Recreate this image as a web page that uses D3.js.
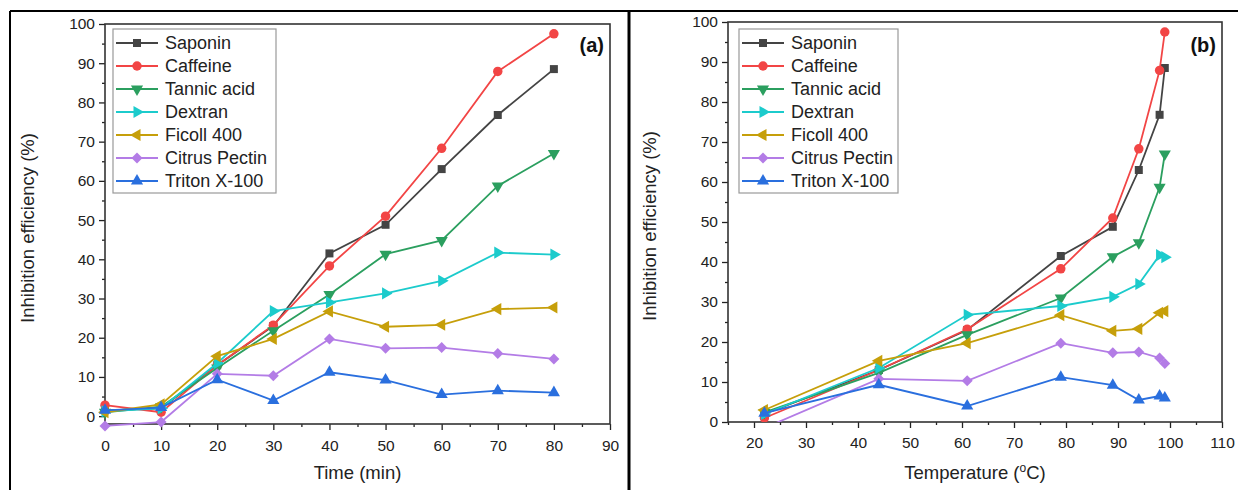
<!DOCTYPE html>
<html>
<head>
<meta charset="utf-8">
<script src="https://cdn.jsdelivr.net/npm/d3@7/dist/d3.min.js"></script>
<style>
  body { margin: 0; background: #fff; }
  svg text { font-family: "Liberation Sans", Arial, sans-serif; }
</style>
</head>
<body>
<div id="chart"></div>
<script>
// series names, in legend order
var names = ["Saponin", "Caffeine", "Tannic acid", "Dextran", "Ficoll 400", "Citrus Pectin", "Triton X-100"];
var colors = ["#444444", "#f24545", "#2b9f5f", "#1ccbcc", "#c69f0a", "#b37ce6", "#2a6fde"];
var shapes = ["square", "circle", "down", "right", "left", "diamond", "up"];

// panel (a): time in minutes
var timeX = [0, 10, 20, 30, 40, 50, 60, 70, 80];
var timeSaponin  = [1.5, 2.0, 13.0, 23.0, 41.5, 48.8, 63.0, 76.8, 88.5];
var timeCaffeine = [2.8, 1.0, 13.0, 23.2, 38.3, 51.0, 68.3, 87.9, 97.5];
var timeTannic   = [1.0, 2.4, 12.3, 21.8, 31.0, 41.3, 44.8, 58.7, 67.0];
var timeDextran  = [1.2, 2.0, 13.5, 26.8, 29.0, 31.3, 34.5, 41.7, 41.2];
var timeFicoll   = [1.0, 3.0, 15.3, 19.7, 26.7, 22.8, 23.3, 27.3, 27.7];
var timePectin   = [-2.5, -1.5, 10.8, 10.3, 19.7, 17.3, 17.5, 16.0, 14.6];
var timeTriton   = [1.5, 2.2, 9.3, 4.0, 11.2, 9.2, 5.5, 6.5, 6.0];

// panel (b): temperature in oC
var tempX = [22, 44, 61, 79, 89, 94, 98, 99];
var tempSaponin  = [2.0, 13.0, 23.0, 41.5, 48.8, 63.0, 76.8, 88.5];
var tempCaffeine = [1.0, 13.0, 23.2, 38.3, 51.0, 68.3, 87.9, 97.5];
var tempTannic   = [2.4, 12.3, 21.8, 31.0, 41.3, 44.8, 58.7, 67.0];
var tempDextran  = [2.0, 13.5, 26.8, 29.0, 31.3, 34.5, 41.7, 41.2];
var tempFicoll   = [3.0, 15.3, 19.7, 26.7, 22.8, 23.3, 27.3, 27.7];
var tempPectin   = [-1.5, 10.8, 10.3, 19.7, 17.3, 17.5, 16.0, 14.6];
var tempTriton   = [2.2, 9.3, 4.0, 11.2, 9.2, 5.5, 6.5, 6.0];

var timeTicks = [0, 10, 20, 30, 40, 50, 60, 70, 80, 90];
var tempTicks = [20, 30, 40, 50, 60, 70, 80, 90, 100, 110];
var yTicks = [0, 10, 20, 30, 40, 50, 60, 70, 80, 90, 100];

var W = 1238, H = 490;
var svg = d3.select("#chart").append("svg")
    .attr("width", W)
    .attr("height", H);

// outer figure frame
svg.append("line").attr("x1", 10).attr("x2", W).attr("y1", 11).attr("y2", 11)
    .attr("stroke", "#000").attr("stroke-width", 2);
svg.append("line").attr("x1", 10).attr("x2", 10).attr("y1", 11).attr("y2", H)
    .attr("stroke", "#000").attr("stroke-width", 2);
svg.append("line").attr("x1", 629).attr("x2", 629).attr("y1", 11).attr("y2", H)
    .attr("stroke", "#000").attr("stroke-width", 3);

function symbolPath(shape) {
    var s;
    if (shape === "square") s = d3.symbol(d3.symbolSquare, 64);
    else if (shape === "circle") s = d3.symbol(d3.symbolCircle, 70);
    else if (shape === "diamond") s = d3.symbol(d3.symbolSquare, 60);
    else s = d3.symbol(d3.symbolTriangle, 64);
    return s();
}
function symbolRot(shape) {
    if (shape === "down") return 180;
    if (shape === "right") return 90;
    if (shape === "left") return -90;
    if (shape === "diamond") return 45;
    return 0;
}

function drawPanel(p) {
    var x = d3.scaleLinear().domain(p.xDomain).range([p.left, p.right]);
    var y = d3.scaleLinear().domain(p.yDomain).range([p.bottom, p.top]);
    var g = svg.append("g");

    // minor ticks
    var xMinor = [], yMinor = [];
    for (var i = 0; i < p.xTicks.length - 1; i++) xMinor.push((p.xTicks[i] + p.xTicks[i + 1]) / 2);
    if (p.xDomain[0] < p.xTicks[0]) xMinor.unshift(p.xTicks[0] - 5);
    for (i = 0; i < yTicks.length - 1; i++) yMinor.push((yTicks[i] + yTicks[i + 1]) / 2);

    g.append("g").attr("transform", "translate(0," + p.bottom + ")")
        .call(d3.axisBottom(x).tickValues(xMinor).tickSize(3).tickFormat(""))
        .call(function (a) { a.select(".domain").remove(); });
    g.append("g").attr("transform", "translate(" + p.left + ",0)")
        .call(d3.axisLeft(y).tickValues(yMinor).tickSize(3).tickFormat(""))
        .call(function (a) { a.select(".domain").remove(); });

    var xa = g.append("g").attr("transform", "translate(0," + p.bottom + ")")
        .call(d3.axisBottom(x).tickValues(p.xTicks).tickSize(6).tickSizeOuter(0).tickPadding(p.xPad));
    var ya = g.append("g").attr("transform", "translate(" + p.left + ",0)")
        .call(d3.axisLeft(y).tickValues(yTicks).tickSize(6).tickSizeOuter(0).tickPadding(4));
    xa.select(".domain").remove();
    ya.select(".domain").remove();
    g.selectAll(".tick line").attr("stroke", "#222").attr("stroke-width", 1.3);
    g.selectAll(".tick text").attr("font-size", 15.5).attr("fill", "#222")
        .style("font-family", "'Liberation Sans', Arial, sans-serif");

    // plot frame
    g.append("rect")
        .attr("x", p.left).attr("y", p.top)
        .attr("width", p.right - p.left).attr("height", p.bottom - p.top)
        .attr("fill", "none").attr("stroke", "#333").attr("stroke-width", 1.6);

    // clip for panel (b)
    var clipId = "clip" + p.id;
    svg.append("clipPath").attr("id", clipId).append("rect")
        .attr("x", p.left).attr("y", p.top)
        .attr("width", p.right - p.left).attr("height", p.bottom - p.top);

    var plot = g.append("g");
    if (p.clip) plot.attr("clip-path", "url(#" + clipId + ")");

    var line = d3.line()
        .x(function (d) { return x(d[0]); })
        .y(function (d) { return y(d[1]); });

    p.series.forEach(function (vals, k) {
        var pts = p.xs.map(function (xv, j) { return [xv, vals[j]]; });
        plot.append("path")
            .attr("d", line(pts))
            .attr("fill", "none")
            .attr("stroke", colors[k])
            .attr("stroke-width", 1.8);
        plot.selectAll("path.m" + k)
            .data(pts)
            .enter()
            .append("path")
            .attr("class", "m" + k)
            .attr("d", symbolPath(shapes[k]))
            .attr("transform", function (d) {
                return "translate(" + x(d[0]) + "," + y(d[1]) + ") rotate(" + symbolRot(shapes[k]) + ")";
            })
            .attr("fill", colors[k]);
    });

    // legend
    var lx = p.left + p.legendDx, ly = 29;
    var leg = g.append("g");
    leg.append("rect")
        .attr("x", lx).attr("y", ly)
        .attr("width", p.legendW).attr("height", 164)
        .attr("fill", "#fff").attr("stroke", "#999").attr("stroke-width", 1.2);
    names.forEach(function (n, k) {
        var cy = ly + 14 + k * 23;
        leg.append("line")
            .attr("x1", lx + 3).attr("x2", lx + 45)
            .attr("y1", cy).attr("y2", cy)
            .attr("stroke", colors[k]).attr("stroke-width", 1.8);
        leg.append("path")
            .attr("d", symbolPath(shapes[k]))
            .attr("transform", "translate(" + (lx + 24) + "," + cy + ") rotate(" + symbolRot(shapes[k]) + ")")
            .attr("fill", colors[k]);
        leg.append("text")
            .attr("x", lx + 52).attr("y", cy + 6)
            .attr("font-size", 18).attr("fill", "#222")
            .text(n);
    });

    // panel tag
    g.append("text")
        .attr("x", p.right - 6).attr("y", 52)
        .attr("text-anchor", "end")
        .attr("font-size", 20).attr("font-weight", "bold").attr("fill", "#111")
        .text(p.tag);

    // axis titles
    g.append("text")
        .attr("transform", "translate(" + p.yTitleX + "," + ((p.top + p.bottom) / 2 + 4) + ") rotate(-90)")
        .attr("text-anchor", "middle")
        .attr("font-size", 18.5).attr("fill", "#222")
        .text("Inhibition efficiency (%)");
    var xt = g.append("text")
        .attr("x", (p.left + p.right) / 2).attr("y", 479)
        .attr("text-anchor", "middle")
        .attr("font-size", 18.5).attr("fill", "#222");
    if (p.id === "a") {
        xt.text("Time (min)");
    } else {
        xt.append("tspan").text("Temperature (");
        xt.append("tspan").attr("font-size", 12).attr("dy", -7).text("o");
        xt.append("tspan").attr("dy", 7).text("C)");
    }
}

drawPanel({
    id: "a", tag: "(a)", xs: timeX,
    series: [timeSaponin, timeCaffeine, timeTannic, timeDextran, timeFicoll, timePectin, timeTriton],
    xDomain: [0, 90], yDomain: [-2, 100], xTicks: timeTicks,
    left: 105, right: 610, top: 24, bottom: 424,
    legendDx: 8, legendW: 163, yTitleX: 34, xPad: 10, clip: false
});

drawPanel({
    id: "b", tag: "(b)", xs: tempX,
    series: [tempSaponin, tempCaffeine, tempTannic, tempDextran, tempFicoll, tempPectin, tempTriton],
    xDomain: [15, 110], yDomain: [0, 100], xTicks: tempTicks,
    left: 728, right: 1222, top: 22, bottom: 422,
    legendDx: 11, legendW: 159, yTitleX: 656, xPad: 9, clip: true
});
</script>
</body>
</html>
